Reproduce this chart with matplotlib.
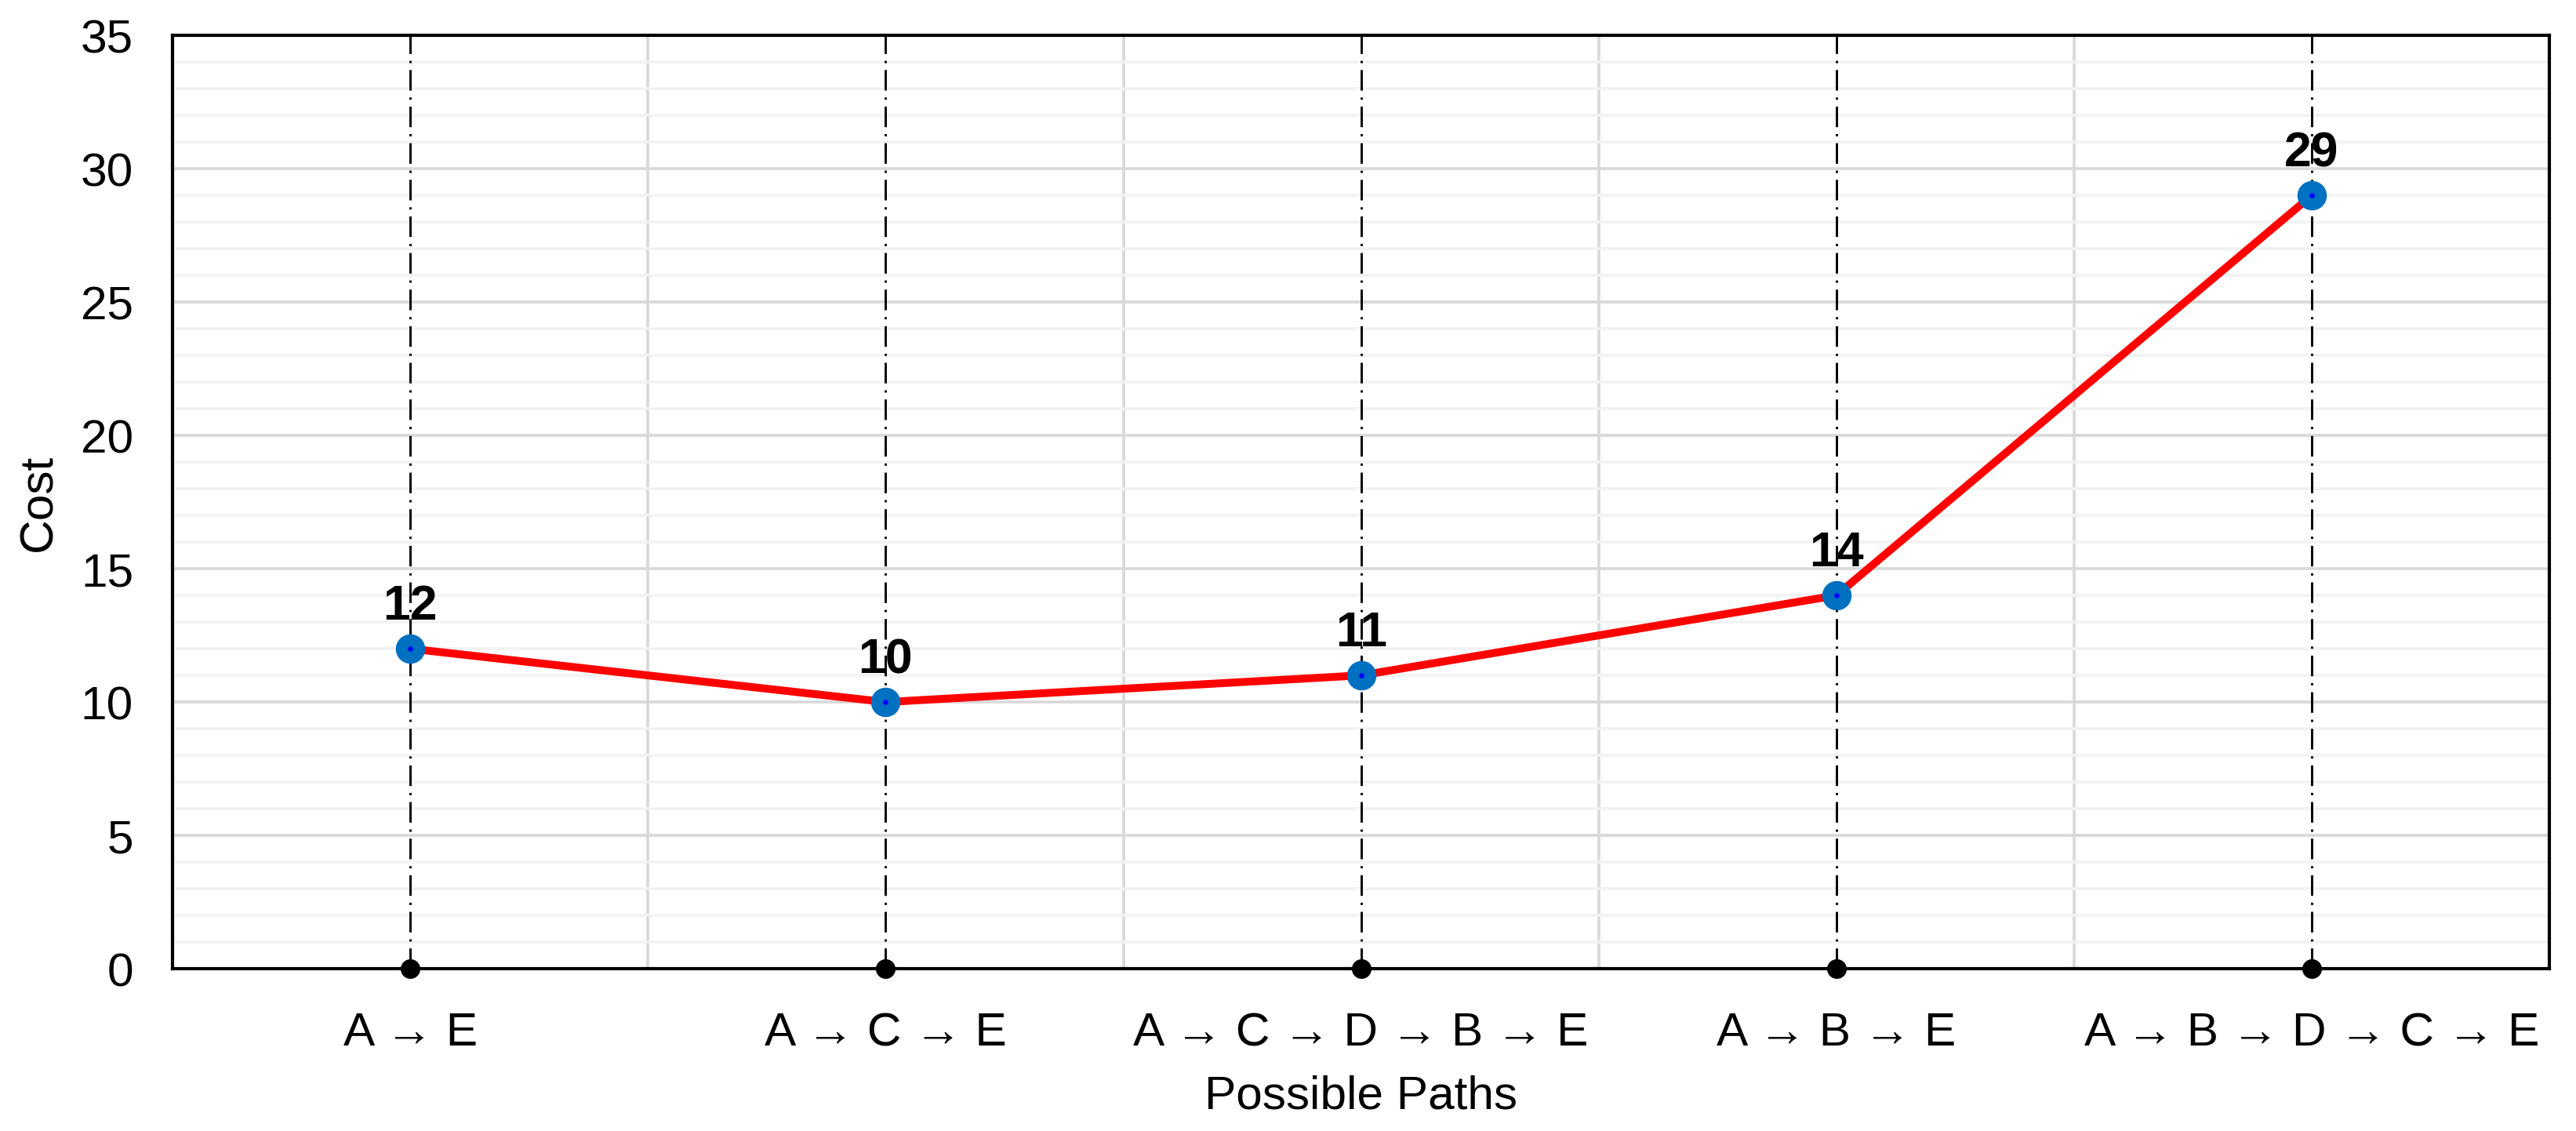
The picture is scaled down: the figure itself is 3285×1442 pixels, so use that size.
import matplotlib
matplotlib.use("Agg")
import matplotlib.pyplot as plt
from matplotlib.ticker import MultipleLocator

plt.rcParams['font.family'] = ['Liberation Sans', 'DejaVu Sans']

paths = ["A → E", "A → C → E", "A → C → D → B → E", "A → B → E", "A → B → D → C → E"]
costs = [12, 10, 11, 14, 29]

x = list(range(len(paths)))

fig, ax = plt.subplots(figsize=(10.95, 4.81), dpi=300)
fig.subplots_adjust(left=0.067, right=0.9897, bottom=0.1434, top=0.968)

ax.set_xlim(-0.5, len(paths) - 0.5)
ax.set_ylim(0, 35)

# grid
ax.yaxis.set_major_locator(MultipleLocator(5))
ax.yaxis.set_minor_locator(MultipleLocator(1))
ax.set_xticks(x)
ax.set_xticks([i + 0.5 for i in x[:-1]], minor=True)
ax.grid(which='minor', axis='y', color='#f2f2f2', lw=0.9, zorder=0)
ax.grid(which='major', axis='y', color='#d9d9d9', lw=0.9, zorder=0)
ax.grid(which='minor', axis='x', color='#d9d9d9', lw=0.9, zorder=0)
ax.set_axisbelow(True)

# dash-dot guides from each point down to the axis
for xi in x:
    ax.plot([xi, xi], [0, 35], color='black', lw=0.7,
            linestyle=(0, (9, 3, 1, 3)), zorder=1)

ax.plot(x, costs, color='#ff0000', lw=2.4, zorder=3)
ax.plot(x, costs, 'o', color='#0070c0', ms=8, zorder=4)
ax.plot(x, costs, 'o', color='#0000ff', ms=0.6, zorder=4.5)
ax.plot(x, [0] * len(x), 'o', color='black', ms=5, zorder=5, clip_on=False)

for xi, c in zip(x, costs):
    ax.annotate(str(c), (xi, c), xytext=(0, 6), textcoords='offset points',
                ha='center', va='bottom', fontsize=15, fontweight='bold')

ax.set_xticklabels(paths)
ax.tick_params(axis='both', which='both', length=0, labelsize=14.5)
ax.tick_params(axis='y', pad=12)
ax.tick_params(axis='x', pad=13)

ax.set_xlabel("Possible Paths", fontsize=14.5, labelpad=6)
ax.set_ylabel("Cost", fontsize=14.5, labelpad=6)

for s in ax.spines.values():
    s.set_color('black')
    s.set_linewidth(1.0)

fig.savefig("out.png", dpi=300)
